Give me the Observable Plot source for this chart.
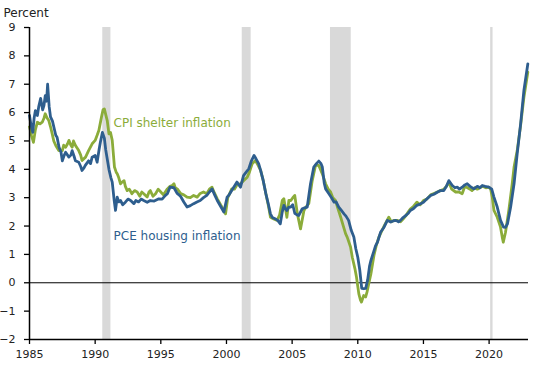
<!DOCTYPE html>
<html>
<head>
<meta charset="utf-8">
<script src="https://cdn.jsdelivr.net/npm/d3@7"></script>
<script src="https://cdn.jsdelivr.net/npm/@observablehq/plot@0.6"></script>
<style>
  html, body { margin: 0; padding: 0; background: #fff; }
  #chart svg { display: block; }
</style>
</head>
<body>
<div id="chart"></div>
<script>
// PCE housing inflation (decimal year, percent)
const pceYears = [1985.0,1985.1,1985.25,1985.35,1985.45,1985.6,1985.7,1985.85,1986.0,1986.1,1986.2,1986.3,1986.38,1986.5,1986.6,1986.75,1986.85,1987.0,1987.1,1987.25,1987.4,1987.5,1987.65,1987.75,1988.0,1988.15,1988.25,1988.4,1988.5,1988.75,1988.9,1989.0,1989.15,1989.25,1989.5,1989.65,1989.77,1990.0,1990.15,1990.3,1990.4,1990.55,1990.7,1990.8,1991.05,1991.2,1991.3,1991.45,1991.55,1991.68,1991.8,1991.93,1992.1,1992.3,1992.5,1992.7,1992.95,1993.1,1993.3,1993.5,1993.7,1993.96,1994.2,1994.5,1994.85,1995.1,1995.35,1995.5,1995.7,1996.0,1996.25,1996.5,1996.75,1997.0,1997.25,1997.5,1997.75,1998.0,1998.25,1998.5,1998.7,1998.9,1999.1,1999.3,1999.55,1999.8,2000.05,2000.2,2000.4,2000.6,2000.8,2001.07,2001.3,2001.5,2001.7,2001.9,2002.1,2002.25,2002.45,2002.6,2002.8,2003.0,2003.2,2003.35,2003.5,2003.7,2003.9,2004.1,2004.25,2004.37,2004.5,2004.6,2004.75,2004.9,2005.05,2005.2,2005.35,2005.5,2005.77,2006.0,2006.15,2006.4,2006.65,2006.85,2007.03,2007.2,2007.3,2007.45,2007.55,2007.8,2008.0,2008.2,2008.35,2008.55,2008.75,2008.95,2009.1,2009.3,2009.5,2009.7,2009.85,2010.0,2010.15,2010.3,2010.45,2010.6,2010.75,2010.9,2011.0,2011.2,2011.35,2011.5,2011.73,2012.0,2012.25,2012.5,2012.7,2012.9,2013.1,2013.25,2013.45,2013.64,2013.85,2014.0,2014.25,2014.5,2014.75,2015.0,2015.25,2015.55,2015.8,2016.05,2016.3,2016.55,2016.75,2016.93,2017.2,2017.4,2017.57,2017.75,2017.95,2018.15,2018.33,2018.55,2018.84,2019.1,2019.3,2019.48,2019.7,2019.98,2020.2,2020.37,2020.62,2020.87,2021.1,2021.25,2021.4,2021.64,2021.9,2022.14,2022.4,2022.65,2022.95];
const pceValues = [5.9,5.6,5.3,5.8,6.07,5.9,6.2,6.5,6.1,6.25,6.6,6.4,7.0,6.2,5.85,5.7,5.5,5.2,5.13,4.78,4.6,4.3,4.5,4.6,4.43,4.5,4.66,4.45,4.3,4.25,4.1,3.96,4.05,4.14,4.3,4.2,4.43,4.49,4.25,4.7,4.96,5.3,5.1,4.7,4.0,3.7,3.55,2.9,2.55,3.02,2.85,2.9,2.75,2.84,2.95,2.9,2.79,2.9,2.85,2.95,2.9,2.84,2.9,2.88,2.96,2.95,3.08,3.14,3.37,3.35,3.15,3.05,2.85,2.67,2.72,2.79,2.85,2.9,3.0,3.08,3.2,3.31,3.1,2.9,2.7,2.49,3.02,3.1,3.25,3.4,3.55,3.37,3.78,3.9,4.02,4.3,4.49,4.37,4.2,3.96,3.6,3.14,2.75,2.43,2.3,2.26,2.2,2.08,2.5,2.73,2.6,2.55,2.67,2.67,2.75,2.45,2.4,2.37,2.61,2.65,2.67,3.49,4.08,4.2,4.29,4.2,4.08,3.5,3.31,3.14,3.0,2.84,2.85,2.67,2.55,2.43,2.35,2.2,1.85,1.61,1.2,0.9,0.45,-0.2,-0.21,-0.2,0.1,0.6,0.79,1.08,1.3,1.43,1.78,1.96,2.2,2.14,2.18,2.2,2.15,2.2,2.3,2.37,2.45,2.55,2.62,2.73,2.78,2.84,2.95,3.08,3.12,3.19,3.25,3.25,3.4,3.6,3.43,3.35,3.37,3.3,3.37,3.45,3.49,3.4,3.31,3.4,3.35,3.43,3.4,3.37,3.3,3.02,2.67,2.2,1.96,1.95,2.08,2.67,3.49,4.55,5.6,6.78,7.72];

// CPI shelter inflation (decimal year, percent)
const cpiYears = [1985.0,1985.15,1985.3,1985.45,1985.6,1985.8,1985.97,1986.1,1986.2,1986.35,1986.47,1986.6,1986.73,1986.85,1987.0,1987.23,1987.5,1987.6,1987.75,1987.9,1988.0,1988.15,1988.25,1988.35,1988.5,1988.75,1988.9,1989.0,1989.27,1989.5,1989.77,1990.0,1990.15,1990.28,1990.48,1990.6,1990.7,1990.82,1990.92,1991.05,1991.17,1991.3,1991.47,1991.6,1991.68,1991.8,1991.93,1992.05,1992.2,1992.3,1992.44,1992.6,1992.8,1993.0,1993.2,1993.4,1993.55,1993.7,1993.96,1994.1,1994.2,1994.4,1994.6,1994.8,1995.0,1995.2,1995.5,1995.7,1995.87,1996.0,1996.1,1996.25,1996.5,1996.75,1997.0,1997.25,1997.5,1997.77,1998.0,1998.25,1998.5,1998.7,1998.9,1999.1,1999.3,1999.55,1999.75,1999.93,2000.1,2000.25,2000.4,2000.6,2000.8,2001.07,2001.3,2001.58,2001.75,2001.96,2002.2,2002.4,2002.6,2002.8,2003.0,2003.2,2003.35,2003.6,2003.86,2004.05,2004.25,2004.37,2004.5,2004.6,2004.75,2004.9,2005.05,2005.2,2005.4,2005.55,2005.64,2005.9,2006.1,2006.27,2006.53,2006.78,2007.03,2007.3,2007.55,2007.75,2007.93,2008.1,2008.3,2008.5,2008.7,2008.9,2009.07,2009.2,2009.45,2009.58,2009.78,2009.9,2010.08,2010.2,2010.28,2010.45,2010.6,2010.7,2010.85,2011.0,2011.23,2011.4,2011.6,2011.8,2012.0,2012.36,2012.55,2012.75,2013.0,2013.25,2013.45,2013.64,2013.85,2014.0,2014.25,2014.5,2014.75,2015.0,2015.25,2015.55,2015.8,2016.05,2016.3,2016.55,2016.75,2016.93,2017.15,2017.45,2017.7,2017.95,2018.15,2018.35,2018.55,2018.7,2018.9,2019.1,2019.3,2019.5,2019.75,2019.98,2020.12,2020.24,2020.37,2020.62,2020.87,2021.0,2021.08,2021.25,2021.5,2021.76,2021.9,2022.14,2022.4,2022.65,2022.95];
const cpiValues = [5.5,5.2,4.95,5.4,5.66,5.6,5.66,5.8,5.96,5.8,5.72,5.5,5.25,5.0,4.84,4.66,4.66,4.85,4.78,4.9,5.02,4.85,4.78,5.0,4.84,4.66,4.5,4.31,4.43,4.66,4.9,5.02,5.2,5.37,5.84,6.1,6.13,5.9,5.72,5.25,5.3,5.02,4.08,3.9,3.84,3.7,3.49,3.55,3.6,3.4,3.25,3.3,3.14,3.25,3.2,3.05,3.2,3.14,3.02,3.2,3.25,3.05,3.14,3.3,3.2,3.1,3.31,3.4,3.43,3.49,3.35,3.31,3.15,3.1,3.02,3.0,3.08,3.02,3.15,3.2,3.14,3.3,3.37,3.15,2.96,2.75,2.6,2.43,3.0,3.15,3.31,3.3,3.45,3.49,3.6,3.72,3.9,4.2,4.31,4.15,3.96,3.6,3.14,2.7,2.31,2.25,2.2,2.4,2.9,2.96,2.6,2.31,2.9,2.9,3.0,3.08,2.43,2.1,1.9,2.55,2.7,2.79,3.6,4.14,4.14,3.84,3.49,3.3,3.2,3.0,2.9,2.6,2.31,2.0,1.73,1.6,1.26,0.9,0.5,0.2,-0.39,-0.6,-0.68,-0.45,-0.5,-0.33,0.0,0.32,0.96,1.3,1.6,1.8,2.0,2.31,2.15,2.2,2.2,2.15,2.25,2.35,2.5,2.6,2.7,2.84,2.75,2.9,2.95,3.1,3.15,3.2,3.25,3.3,3.4,3.55,3.3,3.2,3.2,3.14,3.4,3.35,3.3,3.25,3.35,3.3,3.35,3.4,3.35,3.37,3.3,3.02,2.55,2.31,1.96,1.61,1.43,1.78,2.55,3.49,4.08,4.66,5.55,6.54,7.43];

// Recessions
const recessionStart = [1990.58, 2001.2, 2007.92, 2020.12];
const recessionEnd   = [1991.2, 2001.88, 2009.5, 2020.3];

const yTicks = [-2,-1,0,1,2,3,4,5,6,7,8,9];
const xTicks = [1985,1990,1995,2000,2005,2010,2015,2020];

const labelNames = ["CPI shelter inflation", "PCE housing inflation"];
const labelYears = [1991.4, 1991.4];
const labelValues = [5.62, 1.63];

const pce = pceYears.map((x, i) => ({x, y: pceValues[i]}));
const cpi = cpiYears.map((x, i) => ({x, y: cpiValues[i]}));
const rec = recessionStart.map((s, i) => ({x1: s, x2: recessionEnd[i]}));
const labels = labelNames.map((t, i) => ({t, x: labelYears[i], y: labelValues[i]}));

const green = "#8bac3a";
const blue = "#2e5e8e";

const chart = Plot.plot({
  width: 550,
  height: 365,
  marginLeft: 29,
  marginRight: 22,
  marginTop: 27,
  marginBottom: 26,
  style: {fontFamily: "'DejaVu Sans', sans-serif", fontSize: "11px", color: "#222", background: "#fff"},
  x: {domain: [1985, 2023]},
  y: {domain: [-2, 9]},
  marks: [
    Plot.rect(rec, {x1: "x1", x2: "x2", fill: "#d9d9d9"}),
    Plot.ruleY([0], {stroke: "#000", strokeWidth: 1}),
    Plot.line(cpi, {x: "x", y: "y", stroke: green, strokeWidth: 2.8, strokeLinejoin: "round"}),
    Plot.line(pce, {x: "x", y: "y", stroke: blue, strokeWidth: 2.8, strokeLinejoin: "round"}),
    Plot.text(labels.slice(0,1), {x: "x", y: "y", text: "t", textAnchor: "start", fill: green, fontSize: 12}),
    Plot.text(labels.slice(1), {x: "x", y: "y", text: "t", textAnchor: "start", fill: blue, fontSize: 12}),
    Plot.axisY({ticks: yTicks, tickSize: 5, tickPadding: 9, label: null, stroke: "#000", strokeWidth: 1.3}),
    Plot.axisX({ticks: xTicks, tickSize: 5, tickPadding: 6, tickFormat: "d", label: null, stroke: "#000", strokeWidth: 1.3}),
    Plot.ruleX([1985], {stroke: "#000", strokeWidth: 1.5}),
    Plot.ruleY([-2], {stroke: "#000", strokeWidth: 1.5}),
    Plot.text(["Percent"], {frameAnchor: "top-left", dx: -26, dy: -19, textAnchor: "start", fontSize: 12, fill: "#222"})
  ]
});
document.getElementById("chart").appendChild(chart);
</script>
</body>
</html>
